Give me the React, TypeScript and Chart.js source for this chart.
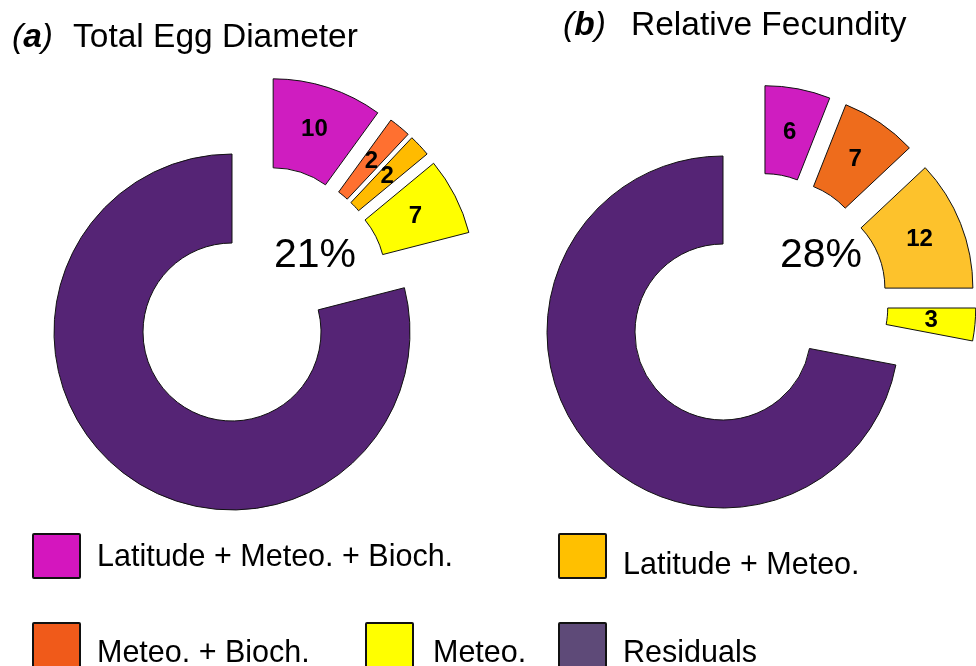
import React, { useEffect, useRef } from 'react';
import { Chart, registerables } from 'chart.js';

Chart.register(...registerables);

// ---------- data ----------
const categories = [
  'Latitude + Meteo. + Bioch.',
  'Meteo. + Bioch.',
  'Latitude + Meteo.',
  'Meteo.',
  'Residuals',
];
const eggDiameterValues = [10, 2, 2, 7, 79];
const fecundityValues = [6, 7, 12, 3, 72];
const eggColors = ['#CF1DC0', '#FF7030', '#FFBB00', '#FFFF00', '#552475'];
const fecundityColors = ['#CF1DC0', '#EE6C1C', '#FDC22C', '#FFFF00', '#552475'];
const legendColors = ['#D416BE', '#F05A1A', '#FFC000', '#FFFF00', '#5E4A78'];
const panelLetters = ['a', 'b'];
const panelTitles = ['Total Egg Diameter', 'Relative Fecundity'];

const FONT = "'Liberation Sans', Arial, Helvetica, sans-serif";

// Shifts the explained slices outwards: a common push along the mid angle of
// the explained group plus an individual push along each slice's mid angle.
const explodePlugin = {
  id: 'explode',
  afterDatasetUpdate(chart: any, args: any, opts: any) {
    const arcs = args.meta.data;
    const n = arcs.length - 1; // last = residuals (not exploded)
    if (n < 1) return;
    const g = (arcs[0].startAngle + arcs[n - 1].endAngle) / 2;
    for (let i = 0; i < n; i++) {
      const a = arcs[i];
      const m = (a.startAngle + a.endAngle) / 2;
      a.x += opts.group * Math.cos(g) + opts.each * Math.cos(m);
      a.y += opts.group * Math.sin(g) + opts.each * Math.sin(m);
    }
  },
  afterDatasetsDraw(chart: any) {
    const ctx = chart.ctx;
    const meta = chart.getDatasetMeta(0);
    const values = chart.data.datasets[0].data;
    ctx.save();
    ctx.font = `bold 24px ${FONT}`;
    ctx.fillStyle = '#000';
    ctx.textAlign = 'center';
    ctx.textBaseline = 'middle';
    for (let i = 0; i < meta.data.length - 1; i++) {
      const a = meta.data[i];
      const m = (a.startAngle + a.endAngle) / 2;
      const r = (a.innerRadius + a.outerRadius) / 2;
      ctx.fillText(String(values[i]), a.x + r * Math.cos(m), a.y + r * Math.sin(m));
    }
    ctx.restore();
  },
};

function makeConfig(values: number[], colors: string[], radius: number, padRight: number, group: number, each: number) {
  return {
    type: 'doughnut' as const,
    data: {
      labels: categories,
      datasets: [
        {
          data: values,
          backgroundColor: colors,
          borderColor: '#111',
          borderWidth: 1,
          borderJoinStyle: 'miter',
          clip: false,
        },
      ],
    },
    options: {
      responsive: false,
      animation: false,
      events: [],
      radius,
      cutout: '50%',
      rotation: 0,
      layout: { padding: { left: 0, right: padRight, top: 0, bottom: 2 } },
      plugins: {
        legend: { display: false },
        tooltip: { enabled: false },
        explode: { group, each },
      },
    },
    plugins: [explodePlugin],
  } as any;
}

const sum = (arr: number[]) => arr.slice(0, arr.length - 1).reduce((s, v) => s + v, 0);

export default function App() {
  const leftRef = useRef<HTMLCanvasElement>(null);
  const rightRef = useRef<HTMLCanvasElement>(null);

  useEffect(() => {
    const c1 = new Chart(leftRef.current!, makeConfig(eggDiameterValues, eggColors, 178, 24, 47, 40));
    const c2 = new Chart(rightRef.current!, makeConfig(fecundityValues, fecundityColors, 176, 18, 44, 43));
    return () => {
      c1.destroy();
      c2.destroy();
    };
  }, []);

  const text = (extra: React.CSSProperties): React.CSSProperties => ({
    position: 'absolute',
    fontFamily: FONT,
    color: '#000',
    whiteSpace: 'nowrap',
    ...extra,
  });

  const legendItems = [
    { idx: 0, sx: 32, sy: 533, tx: 97, ty: 540 },
    { idx: 2, sx: 558, sy: 533, tx: 623, ty: 548 },
    { idx: 1, sx: 32, sy: 622, tx: 97, ty: 636 },
    { idx: 3, sx: 365, sy: 622, tx: 433, ty: 636 },
    { idx: 4, sx: 558, sy: 622, tx: 623, ty: 636 },
  ];

  const letter = (l: string, x: number, y: number) => (
    <div style={text({ left: x, top: y, fontSize: 33.5, lineHeight: '33.5px', fontStyle: 'italic' })}>
      (<span style={{ fontWeight: 'bold' }}>{l}</span>)
    </div>
  );

  return (
    <div
      style={{
        position: 'absolute',
        left: 0,
        top: 0,
        width: 976,
        height: 666,
        overflow: 'hidden',
        background: '#fff',
      }}
    >
      <canvas ref={leftRef} width={488} height={666} style={{ position: 'absolute', left: 0, top: 0 }} />
      <canvas ref={rightRef} width={488} height={666} style={{ position: 'absolute', left: 488, top: 0 }} />

      {letter(panelLetters[0], 12, 19)}
      <div style={text({ left: 73, top: 19, fontSize: 33.5, lineHeight: '33.5px' })}>{panelTitles[0]}</div>
      {letter(panelLetters[1], 563, 7)}
      <div style={text({ left: 631, top: 7, fontSize: 33.5, lineHeight: '33.5px' })}>{panelTitles[1]}</div>

      <div style={text({ left: 274, top: 233, fontSize: 41, lineHeight: '41px' })}>{sum(eggDiameterValues)}%</div>
      <div style={text({ left: 780, top: 233, fontSize: 41, lineHeight: '41px' })}>{sum(fecundityValues)}%</div>

      {legendItems.map((it) => (
        <React.Fragment key={it.idx}>
          <div
            style={{
              position: 'absolute',
              left: it.sx,
              top: it.sy,
              width: 49,
              height: 46,
              boxSizing: 'border-box',
              border: '2px solid #111',
              borderRadius: 2,
              background: legendColors[it.idx],
            }}
          />
          <div style={text({ left: it.tx, top: it.ty, fontSize: 30.5, lineHeight: '30.5px' })}>{categories[it.idx]}</div>
        </React.Fragment>
      ))}
    </div>
  );
}
